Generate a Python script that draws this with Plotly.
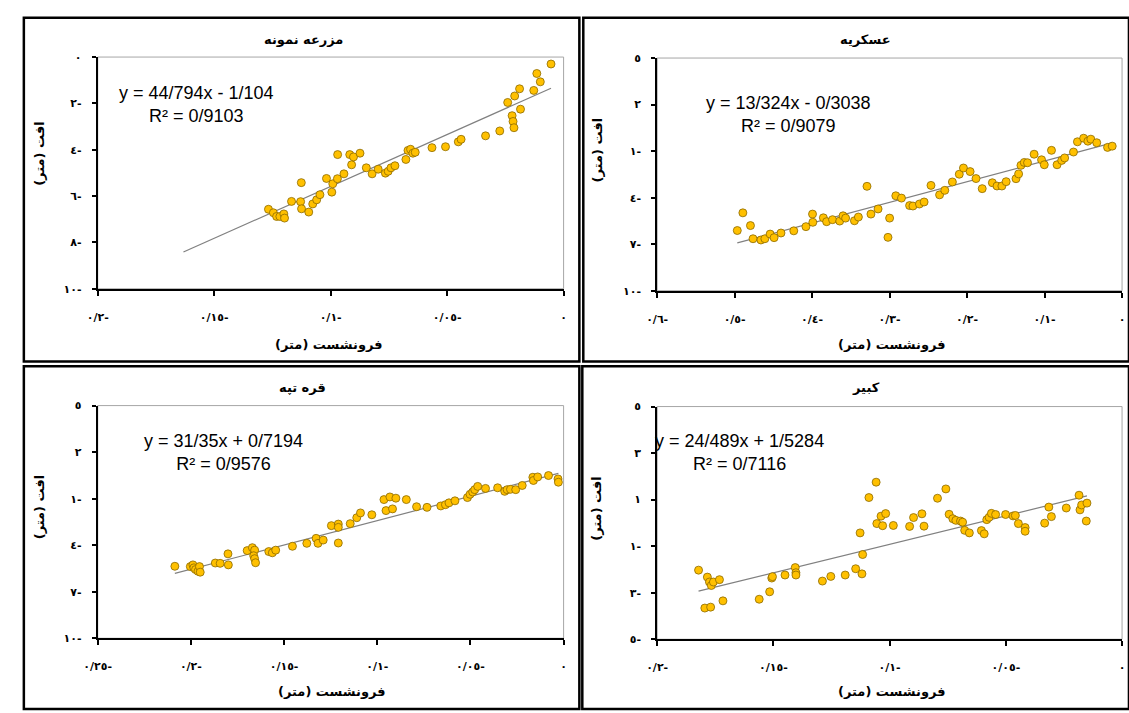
import plotly.graph_objects as go

W, H = 1129, 713

# ---------------- data ----------------
# Panel 1: مزرعه نمونه
p1_x = [-0.1267, -0.1246, -0.1232, -0.1218, -0.1201, -0.1198, -0.1168, -0.1129, -0.1126, -0.1125,
        -0.1094, -0.1077, -0.1060, -0.1046, -0.1018, -0.0995, -0.0991, -0.0971, -0.0970, -0.0943,
        -0.0918, -0.0910, -0.0902, -0.0874, -0.0847, -0.0822, -0.0796, -0.0765, -0.0753, -0.0741,
        -0.0724, -0.0677, -0.0668, -0.0657, -0.0647, -0.0637, -0.0565, -0.0507, -0.0452, -0.0440,
        -0.0335, -0.0274, -0.0240, -0.0221, -0.0217, -0.0213, -0.0210, -0.0189, -0.0185, -0.0128,
        -0.0115, -0.0100, -0.0054]
p1_y = [-6.57, -6.72, -6.88, -6.88, -6.77, -6.95, -6.23, -6.24, -5.42, -6.55,
        -6.69, -6.34, -6.16, -5.94, -5.24, -5.83, -5.47, -5.25, -4.21, -5.04,
        -4.21, -4.65, -4.31, -4.15, -4.78, -5.04, -4.84, -5.01, -4.93, -4.78,
        -4.69, -4.42, -4.03, -3.98, -4.15, -4.11, -3.91, -3.87, -3.66, -3.55,
        -3.40, -3.19, -1.96, -2.53, -2.78, -3.05, -1.68, -1.37, -2.25, -1.44,
        -0.71, -1.07, -0.30]
p1_slope, p1_intercept = 44.794, -1.104
p1_trend_x = [-0.1632, -0.0054]

# Panel 2: عسکریه
p2_x = [-0.4966, -0.4894, -0.4796, -0.4763, -0.4661, -0.4610, -0.4542, -0.4491, -0.4402, -0.4237,
        -0.4080, -0.3995, -0.3991, -0.3855, -0.3813, -0.3737, -0.3644, -0.3601, -0.3568, -0.3454,
        -0.3403, -0.3292, -0.3241, -0.3149, -0.3021, -0.3000, -0.2920, -0.2847, -0.2742, -0.2699,
        -0.2615, -0.2555, -0.2466, -0.2355, -0.2288, -0.2190, -0.2101, -0.2047, -0.1961, -0.1885,
        -0.1805, -0.1674, -0.1614, -0.1551, -0.1496, -0.1369, -0.1335, -0.1305, -0.1262, -0.1220,
        -0.1135, -0.1039, -0.1004, -0.0911, -0.0839, -0.0779, -0.0741, -0.0627, -0.0576, -0.0496,
        -0.0441, -0.0403, -0.0327, -0.0187, -0.0127]
p2_y = [-6.12, -4.98, -5.80, -6.65, -6.73, -6.65, -6.35, -6.58, -6.28, -6.14,
        -5.87, -5.06, -5.59, -5.30, -5.55, -5.42, -5.51, -5.17, -5.32, -5.49,
        -5.25, -3.27, -5.06, -4.73, -6.56, -5.32, -3.88, -4.03, -4.51, -4.54,
        -4.41, -4.28, -3.21, -3.82, -3.53, -2.99, -2.49, -2.09, -2.32, -2.77,
        -3.42, -3.04, -3.25, -3.25, -2.97, -2.78, -2.47, -1.92, -1.73, -1.75,
        -1.20, -1.56, -1.88, -0.95, -1.88, -1.60, -1.44, -1.06, -0.40, -0.17,
        -0.36, -0.23, -0.46, -0.76, -0.68]
p2_slope, p2_intercept = 13.324, -0.3038
p2_trend_x = [-0.4966, -0.0127]

# Panel 3: قره تپه
p3_x = [-0.2086, -0.2003, -0.1989, -0.1984, -0.1975, -0.1962, -0.1954, -0.1950, -0.1869, -0.1843,
        -0.1801, -0.1799, -0.1698, -0.1670, -0.1658, -0.1663, -0.1658, -0.1653, -0.1582, -0.1563,
        -0.1545, -0.1455, -0.1378, -0.1328, -0.1318, -0.1290, -0.1246, -0.1209, -0.1209, -0.1209,
        -0.1145, -0.1110, -0.1090, -0.1029, -0.0964, -0.0953, -0.0932, -0.0918, -0.0900, -0.0844,
        -0.0789, -0.0733, -0.0659, -0.0634, -0.0615, -0.0583, -0.0516, -0.0502, -0.0488, -0.0477,
        -0.0461, -0.0419, -0.0354, -0.0316, -0.0303, -0.0285, -0.0257, -0.0222, -0.0165, -0.0162,
        -0.0139, -0.0081, -0.0030, -0.0028]
p3_y = [-5.36, -5.38, -5.27, -5.46, -5.57, -5.68, -5.38, -5.74, -5.15, -5.17,
        -4.56, -5.27, -4.35, -4.16, -4.32, -4.68, -4.87, -5.13, -4.41, -4.49,
        -4.32, -4.07, -3.88, -3.56, -3.88, -3.67, -2.74, -2.64, -2.85, -3.86,
        -2.61, -2.23, -1.92, -2.04, -1.06, -1.77, -0.89, -1.66, -0.97, -1.06,
        -1.52, -1.56, -1.47, -1.39, -1.27, -1.14, -0.93, -0.72, -0.57, -0.42,
        -0.21, -0.34, -0.30, -0.53, -0.42, -0.40, -0.42, -0.15, 0.38, 0.17,
        0.40, 0.49, 0.27, 0.06]
p3_slope, p3_intercept = 31.35, 0.7194
p3_trend_x = [-0.2086, -0.0028]

# Panel 4: کبیر
p4_x = [-0.1822, -0.1784, -0.1795, -0.1770, -0.1775, -0.1767, -0.1758, -0.1732, -0.1717, -0.1561,
        -0.1516, -0.1507, -0.1504, -0.1450, -0.1406, -0.1403, -0.1403, -0.1289, -0.1253, -0.1191,
        -0.1146, -0.1119, -0.1116, -0.1127, -0.1089, -0.1058, -0.1055, -0.1037, -0.1030, -0.1017,
        -0.0984, -0.0914, -0.0897, -0.0861, -0.0852, -0.0794, -0.0758, -0.0744, -0.0728, -0.0715,
        -0.0695, -0.0686, -0.0677, -0.0657, -0.0605, -0.0593, -0.0582, -0.0572, -0.0562, -0.0544,
        -0.0501, -0.0469, -0.0459, -0.0446, -0.0417, -0.0417, -0.0333, -0.0315, -0.0304, -0.0240,
        -0.0185, -0.0181, -0.0174, -0.0151, -0.0154]
p4_y = [-2.03, -2.33, -3.66, -3.62, -2.54, -2.69, -2.54, -2.44, -3.35, -3.28,
        -2.96, -2.37, -2.31, -2.24, -1.92, -2.14, -2.24, -2.50, -2.30, -2.24,
        -1.97, -2.19, -1.36, -0.43, 1.09, 1.75, -0.03, 0.29, -0.12, 0.40,
        -0.11, -0.15, 0.23, 0.39, -0.14, 1.06, 1.46, 0.37, 0.18, 0.11,
        0.08, 0.03, -0.32, -0.43, -0.33, -0.47, 0.14, 0.24, 0.41, 0.36,
        0.36, 0.30, 0.32, -0.03, -0.20, -0.36, -0.01, 0.68, 0.27, 0.64,
        1.19, 0.56, 0.77, 0.85, 0.08]
p4_slope, p4_intercept = 24.489, 1.5284
p4_trend_x = [-0.1822, -0.0151]

# texts
titles = ["مزرعه نمونه", "عسکریه", "قره تپه", "کبیر"]
equations = ["y = 44/794x - 1/104<br>R² = 0/9103",
             "y = 13/324x - 0/3038<br>R² = 0/9079",
             "y = 31/35x + 0/7194<br>R² = 0/9576",
             "y = 24/489x + 1/5284<br>R² = 0/7116"]
x_title = "فرونشست (متر)\u200f"
y_title = "افت (متر)\u200f"

# tick values / labels
p1_xticks = [-0.2, -0.15, -0.1, -0.05, 0]
p1_xlabels = ["٠/٢-", "٠/١٥-", "٠/١-", "٠/٠٥-", "٠"]
p1_yticks = [0, -2, -4, -6, -8, -10]
p1_ylabels = ["٠", "٢-", "٤-", "٦-", "٨-", "١٠-"]
p2_xticks = [-0.6, -0.5, -0.4, -0.3, -0.2, -0.1, 0]
p2_xlabels = ["٠/٦-", "٠/٥-", "٠/٤-", "٠/٣-", "٠/٢-", "٠/١-", "٠"]
p2_yticks = [5, 2, -1, -4, -7, -10]
p2_ylabels = ["٥", "٢", "١-", "٤-", "٧-", "١٠-"]
p3_xticks = [-0.25, -0.2, -0.15, -0.1, -0.05, 0]
p3_xlabels = ["٠/٢٥-", "٠/٢-", "٠/١٥-", "٠/١-", "٠/٠٥-", "٠"]
p3_yticks = [5, 2, -1, -4, -7, -10]
p3_ylabels = ["٥", "٢", "١-", "٤-", "٧-", "١٠-"]
p4_xticks = [-0.2, -0.15, -0.1, -0.05, 0]
p4_xlabels = ["٠/٢-", "٠/١٥-", "٠/١-", "٠/٠٥-", "٠"]
p4_yticks = [5, 3, 1, -1, -3, -5]
p4_ylabels = ["٥", "٣", "١", "١-", "٣-", "٥-"]

# ---------------- layout geometry (px) ----------------
panels = [
    dict(x=p1_x, y=p1_y, m=p1_slope, b=p1_intercept, tx=p1_trend_x, xr=[-0.2, 0], yr=[-10, 0],
         xt=p1_xticks, xl=p1_xlabels, yt=p1_yticks, yl=p1_ylabels,
         plot=(85, 558, 52, 288), title=(294, 34), eq=(185, 100), xtit=(320, 345), ytit=(26, 150)),
    dict(x=p2_x, y=p2_y, m=p2_slope, b=p2_intercept, tx=p2_trend_x, xr=[-0.6, 0], yr=[-10, 5],
         xt=p2_xticks, xl=p2_xlabels, yt=p2_yticks, yl=p2_ylabels,
         plot=(653, 1125, 53, 290), title=(865, 34), eq=(786, 111), xtit=(891, 345), ytit=(592, 147)),
    dict(x=p3_x, y=p3_y, m=p3_slope, b=p3_intercept, tx=p3_trend_x, xr=[-0.25, 0], yr=[-10, 5],
         xt=p3_xticks, xl=p3_xlabels, yt=p3_yticks, yl=p3_ylabels,
         plot=(85, 558, 407, 644), title=(293, 389), eq=(213, 455), xtit=(323, 698), ytit=(26, 510)),
    dict(x=p4_x, y=p4_y, m=p4_slope, b=p4_intercept, tx=p4_trend_x, xr=[-0.2, 0], yr=[-5, 5],
         xt=p4_xticks, xl=p4_xlabels, yt=p4_yticks, yl=p4_ylabels,
         plot=(653, 1125, 408, 645), title=(865, 389), eq=(737, 455), xtit=(891, 698), ytit=(592, 512)),
]
boxes = [(10, 574, 12, 362), (578, 1132, 12, 362), (10, 574, 367, 716), (577, 1132, 367, 716)]

fig = go.Figure()
layout = dict(width=W, height=H, margin=dict(l=0, r=0, t=0, b=0), autosize=False,
              paper_bgcolor="white", plot_bgcolor="white", showlegend=False)
shapes, annotations = [], []


def px(v):
    return v / W


def py(v):
    return 1 - v / H


tick_font = dict(family="DejaVu Sans", size=11, color="black", weight="bold")
label_font = dict(family="DejaVu Sans", size=13, color="black", weight="bold")

for i, p in enumerate(panels, start=1):
    sx = "" if i == 1 else str(i)
    xa, ya = "x" + sx, "y" + sx
    x0, x1, y0, y1 = p["plot"]
    layout["xaxis" + sx] = dict(domain=[px(x0), px(x1)], anchor=ya, range=p["xr"],
                                tickvals=p["xt"], ticktext=p["xl"], showgrid=False, zeroline=False,
                                showline=True, linecolor="black", linewidth=2,
                                ticks="outside", ticklen=5, tickwidth=2, tickcolor="black",
                                tickfont=tick_font, ticklabelstandoff=12, fixedrange=True)
    layout["yaxis" + sx] = dict(domain=[py(y1), py(y0)], anchor=xa, range=p["yr"],
                                tickvals=p["yt"], ticktext=p["yl"], showgrid=False, zeroline=False,
                                showline=True, linecolor="black", linewidth=2,
                                ticks="outside", ticklen=4, tickwidth=2, tickcolor="black",
                                tickfont=tick_font, ticklabelstandoff=8, fixedrange=True)
    # light frame (top/right)
    shapes.append(dict(type="rect", xref=xa + " domain", yref=ya + " domain", x0=0, x1=1, y0=0, y1=1,
                       line=dict(color="#a6a6a6", width=1), layer="below"))
    # trend line
    tx = p["tx"]
    ty = [p["m"] * v + p["b"] for v in tx]
    fig.add_trace(go.Scatter(x=tx, y=ty, mode="lines", line=dict(color="#808080", width=1.2),
                             xaxis=xa, yaxis=ya, hoverinfo="skip"))
    fig.add_trace(go.Scatter(x=p["x"], y=p["y"], mode="markers", xaxis=xa, yaxis=ya,
                             marker=dict(size=8, color="#FFC000",
                                         line=dict(color="#8C6A00", width=0.8))))
    annotations.append(dict(x=px(p["title"][0]), y=py(p["title"][1]), xref="paper", yref="paper",
                            xanchor="center", yanchor="middle",
                            text=titles[i - 1], showarrow=False, font=label_font))
    annotations.append(dict(x=px(p["eq"][0]), y=py(p["eq"][1]), xref="paper", yref="paper",
                            xanchor="center", yanchor="middle",
                            text=equations[i - 1], showarrow=False, align="center",
                            font=dict(family="Liberation Sans", size=18, color="black")))
    annotations.append(dict(x=px(p["xtit"][0]), y=py(p["xtit"][1]), xref="paper", yref="paper",
                            xanchor="center", yanchor="middle",
                            text=x_title, showarrow=False, font=label_font))
    annotations.append(dict(x=px(p["ytit"][0]), y=py(p["ytit"][1]), xref="paper", yref="paper",
                            xanchor="center", yanchor="middle",
                            text=y_title, showarrow=False, textangle=-90, font=label_font))

for (bx0, bx1, by0, by1) in boxes:
    shapes.append(dict(type="rect", xref="paper", yref="paper", x0=px(bx0), x1=px(bx1),
                       y0=py(by1), y1=py(by0), line=dict(color="black", width=2.5)))

layout["shapes"] = shapes
layout["annotations"] = annotations
fig.update_layout(**layout)
fig.write_html("out.html", config={"displayModeBar": False},
               post_script="document.body.style.margin='0';document.body.style.overflow='hidden';")
